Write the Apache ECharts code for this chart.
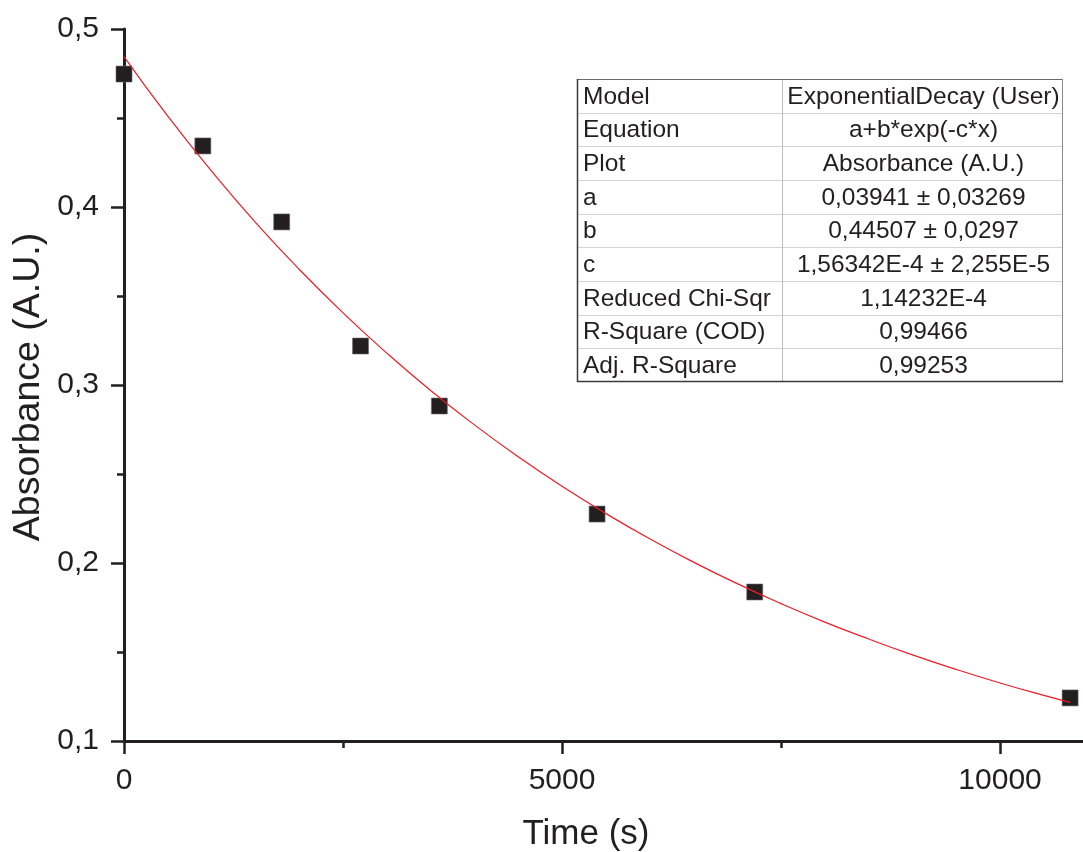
<!DOCTYPE html>
<html>
<head>
<meta charset="utf-8">
<script src="https://cdn.jsdelivr.net/npm/echarts@6/dist/echarts.min.js"></script>
<style>
html,body{margin:0;padding:0;background:#fff;}
#chart{width:1083px;height:852px;}
</style>
</head>
<body>
<div id="chart"></div>
<script>
// Measured points
var timeS = [0, 900, 1800, 2700, 3600, 5400, 7200, 10800];
var absorbance = [0.4747, 0.4343, 0.3916, 0.3219, 0.2882, 0.2275, 0.1837, 0.1242];
// Fitted curve
var fitTime = [0, 500, 1000, 1500, 2000, 2500, 3000, 3500, 4000, 4500, 5000, 5500, 6000, 6500, 7000, 7500, 8000, 8500, 9000, 9500, 10000, 10500, 10800];
var fitAbs = [0.4845, 0.4510, 0.4201, 0.3914, 0.3650, 0.3405, 0.3179, 0.2969, 0.2776, 0.2597, 0.2431, 0.2278, 0.2136, 0.2005, 0.1884, 0.1772, 0.1668, 0.1573, 0.1484, 0.1402, 0.1326, 0.1256, 0.1217];
// Ticks
var xMajorTicks = [0, 5000, 10000];
var xMinorTicks = [2500, 7500];
var xTickLabels = ['0', '5000', '10000'];
var yTickLabels = ['0,1', '0,2', '0,3', '0,4', '0,5'];
// Fit table
var tableLabels = ['Model', 'Equation', 'Plot', 'a', 'b', 'c', 'Reduced Chi-Sqr', 'R-Square (COD)', 'Adj. R-Square'];
var tableValues = ['ExponentialDecay (User)', 'a+b*exp(-c*x)', 'Absorbance (A.U.)', '0,03941 \u00b1 0,03269', '0,44507 \u00b1 0,0297', '1,56342E-4 \u00b1 2,255E-5', '1,14232E-4', '0,99466', '0,99253'];
var xTitle = 'Time (s)';
var yTitle = 'Absorbance (A.U.)';

var FONT = '"Liberation Sans", Arial, sans-serif';
var INK = '#231f20';

var chart = echarts.init(document.getElementById('chart'));

var scatterData = timeS.map(function (t, i) { return [t, absorbance[i]]; });
var fitData = fitTime.map(function (t, i) { return [t, fitAbs[i]]; });

// Table graphics
var tL = 577, tT = 79, tR = 1063, tB = 382, colX = 782;
var rowH = (tB - tT) / tableLabels.length;
var tableEls = [];
tableEls.push({type: 'rect', shape: {x: tL, y: tT, width: tR - tL, height: tB - tT}, style: {fill: '#fff', stroke: null}, z: 10});
for (var r = 1; r < tableLabels.length; r++) {
  var yy = Math.round(tT + r * rowH) + 0.5;
  tableEls.push({type: 'line', shape: {x1: tL, y1: yy, x2: tR, y2: yy}, style: {stroke: '#d4d4d4', lineWidth: 1}, z: 11});
}
tableEls.push({type: 'line', shape: {x1: colX + 0.5, y1: tT, x2: colX + 0.5, y2: tB}, style: {stroke: '#bdbdbd', lineWidth: 1}, z: 11});
tableEls.push({type: 'line', shape: {x1: tL, y1: tT + 0.5, x2: tR, y2: tT + 0.5}, style: {stroke: '#6a6a6a', lineWidth: 1}, z: 12});
tableEls.push({type: 'line', shape: {x1: tR - 0.5, y1: tT, x2: tR - 0.5, y2: tB}, style: {stroke: '#8a8a8a', lineWidth: 1}, z: 12});
tableEls.push({type: 'line', shape: {x1: tL + 0.5, y1: tT, x2: tL + 0.5, y2: tB}, style: {stroke: '#3a3a3a', lineWidth: 1.5}, z: 12});
tableEls.push({type: 'line', shape: {x1: tL, y1: tB - 0.5, x2: tR, y2: tB - 0.5}, style: {stroke: '#3a3a3a', lineWidth: 1.5}, z: 12});
for (var k = 0; k < tableLabels.length; k++) {
  var cy = tT + (k + 0.5) * rowH + 1;
  tableEls.push({type: 'text', x: tL + 6, y: cy, style: {text: tableLabels[k], font: '24.5px ' + FONT, fill: INK, textAlign: 'left', textVerticalAlign: 'middle'}, z: 13});
  tableEls.push({type: 'text', x: (colX + tR) / 2 + 1, y: cy, style: {text: tableValues[k], font: '24.5px ' + FONT, fill: INK, textAlign: 'center', textVerticalAlign: 'middle'}, z: 13});
}

var X_MAX = 10947; // right edge of the picture

var option = {
  backgroundColor: '#fff',
  animation: false,
  grid: {left: 124, top: 29, right: 0, height: 712, containLabel: false},
  xAxis: [
    {
      type: 'value', min: 0, max: X_MAX,
      axisLine: {show: true, onZero: false, lineStyle: {color: INK, width: 3}},
      axisTick: {show: true, inside: false, length: 13, customValues: xMajorTicks, lineStyle: {color: INK, width: 2.5}},
      splitLine: {show: false},
      axisLabel: {
        margin: 25, color: INK, fontSize: 30, fontFamily: FONT, customValues: xMajorTicks,
        formatter: function (v) { var i = xMajorTicks.indexOf(v); return i >= 0 ? xTickLabels[i] : ''; }
      }
    },
    {
      type: 'value', min: 0, max: X_MAX, position: 'bottom',
      axisLine: {show: false, onZero: false},
      axisTick: {show: true, inside: false, length: 7, customValues: xMinorTicks, lineStyle: {color: INK, width: 2.5}},
      splitLine: {show: false},
      axisLabel: {show: false}
    }
  ],
  yAxis: {
    type: 'value', min: 0.1, max: 0.5, interval: 0.1,
    axisLine: {show: true, onZero: false, lineStyle: {color: INK, width: 3}},
    axisTick: {show: true, inside: false, length: 13, lineStyle: {color: INK, width: 2.5}},
    minorTick: {show: true, splitNumber: 2, length: 7, lineStyle: {color: INK, width: 2.5}},
    splitLine: {show: false},
    axisLabel: {
      margin: 25, color: INK, fontSize: 30, fontFamily: FONT,
      formatter: function (v) { var i = Math.round((v - 0.1) / 0.1); return yTickLabels[i] || ''; }
    }
  },
  series: [
    {
      type: 'scatter', data: scatterData, symbol: 'rect', symbolSize: 16,
      itemStyle: {color: INK, borderColor: '#6f6d6e', borderWidth: 0.6, opacity: 1},
      z: 2, silent: true, clip: false
    },
    {
      type: 'line', data: fitData, smooth: true, showSymbol: false, symbol: 'none',
      lineStyle: {color: '#ee1c25', width: 1.2},
      z: 3, silent: true
    }
  ],
  graphic: [
    {type: 'text', x: 586, y: 834, style: {text: xTitle, font: '35px ' + FONT, fill: INK, textAlign: 'center', textVerticalAlign: 'middle'}},
    {type: 'text', x: 29, y: 387, rotation: Math.PI / 2, style: {text: yTitle, font: '37.5px ' + FONT, fill: INK, textAlign: 'center', textVerticalAlign: 'middle'}},
    {type: 'group', children: tableEls}
  ]
};
chart.setOption(option);
</script>
</body>
</html>
